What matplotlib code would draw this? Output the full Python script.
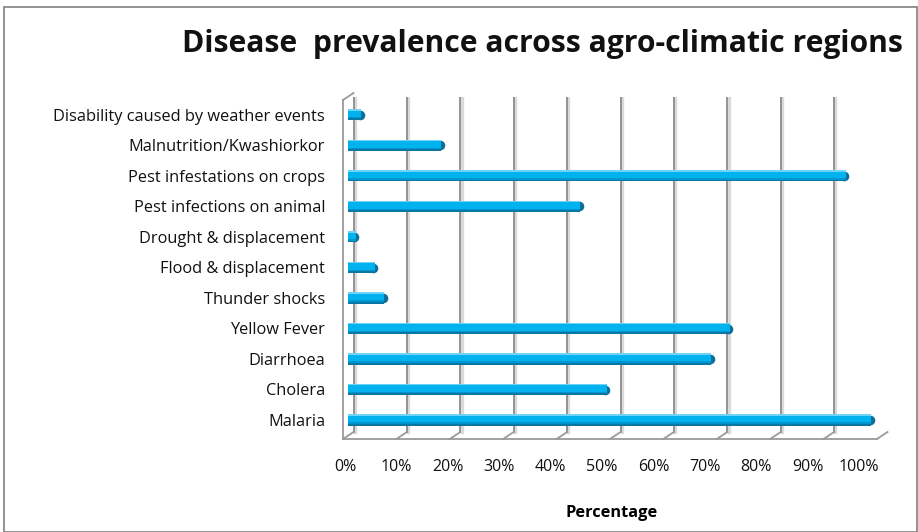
import numpy as np
import matplotlib
matplotlib.use('Agg')
import matplotlib.pyplot as plt
import matplotlib.transforms as mtransforms
from matplotlib.patches import Rectangle

# Data, bottom to top
diseases = ['Malaria', 'Cholera', 'Diarrhoea', 'Yellow Fever', 'Thunder shocks',
            'Flood & displacement', 'Drought & displacement', 'Pest infections on animal',
            'Pest infestations on crops', 'Malnutrition/Kwashiorkor',
            'Disability caused by weather events']
prevalence = [98.0, 48.5, 68.0, 71.5, 6.8, 5.0, 1.5, 43.5, 93.2, 17.5, 2.5]
ticks = np.arange(0, 101, 10)
tick_labels = [f'{t}%' for t in ticks]

W, H = 918, 532
plt.rcParams['font.family'] = ['Open Sans', 'DejaVu Sans']
fig = plt.figure(figsize=(W / 100, H / 100), dpi=100)

def px(l, b, w, h):
    return [l / W, b / H, w / W, h / H]

# Bars live in the middle depth plane
ax = fig.add_axes(px(348, 532 - 435.5, 534, 339))
ax.set_xlim(0, 100)
ax.set_ylim(-0.51, 10.59)
ax.patch.set_visible(False)
for s in ax.spines.values():
    s.set_visible(False)

y = np.arange(len(diseases))
vals = np.array(prevalence)

front = mtransforms.ScaledTranslation(-5 / 100, -3.5 / 100, fig.dpi_scale_trans)
back = mtransforms.ScaledTranslation(5.5 / 100, 3.5 / 100, fig.dpi_scale_trans)
wall = '#9a9a9a'

# back wall gridlines (with a soft shadow)
for t in ticks:
    ax.plot([t, t], [0, 1], color='#dadada', lw=2.4, transform=ax.get_xaxis_transform() + back
            + mtransforms.ScaledTranslation(1.3 / 100, 0, fig.dpi_scale_trans), zorder=0.5)
    ax.plot([t, t], [0, 1], color='#8c8c8c', lw=1.3, transform=ax.get_xaxis_transform() + back, zorder=1)

def depth(xa, ya, **kw):
    # line from the front plane to the back plane at one axes point
    f = (ax.transAxes + front).transform((xa, ya))
    b = (ax.transAxes + back).transform((xa, ya))
    ax.plot([f[0], b[0]], [f[1], b[1]], transform=mtransforms.IdentityTransform(), **kw)

# floor front edge and left wall front edge
ax.plot([0, 1], [0, 0], color=wall, lw=1.3, transform=ax.transAxes + front, clip_on=False)
ax.plot([0, 0], [0, 1], color=wall, lw=1.3, transform=ax.transAxes + front, clip_on=False)
depth(0, 1, color=wall, lw=1.3, clip_on=False)
for t in ticks:
    depth(t / 100, 0, color=wall, lw=1.3, clip_on=False)

# cylinder-like bars
ax.scatter(vals - 0.3, y - 0.01, s=48, marker='o', color='#0b6f99', zorder=2.9, linewidths=0)
ax.barh(y - 0.01, vals, height=0.36, color='#0a76a4', zorder=3)
ax.barh(y + 0.025, vals, height=0.31, color='#0096cf', zorder=3)
ax.barh(y + 0.05, vals, height=0.26, color='#00b2ee', zorder=3)
ax.barh(y + 0.155, vals, height=0.05, color='#6fd3f6', zorder=3)

ax.set_yticks(y)
ax.set_yticklabels(diseases, fontsize=11.8, color='#111111')
ax.tick_params(axis='y', length=0, pad=16.5)
ax.set_xticks([])

# value axis labels on a helper axis (Excel spreads them slightly narrower)
ax2 = fig.add_axes(px(345, 532 - 458, 514, 1))
ax2.set_xlim(0, 100)
ax2.set_xticks(ticks)
ax2.set_xticklabels(tick_labels, fontsize=11.5, color='#111111')
ax2.tick_params(axis='x', length=0, pad=1)
ax2.set_yticks([])
ax2.patch.set_visible(False)
for s in ax2.spines.values():
    s.set_visible(False)

fig.text(612 / W, 1 - 513 / H, 'Percentage', fontsize=11.8, fontweight='bold',
         ha='center', va='center')
fig.text(542 / W, 1 - 44 / H, 'Disease  prevalence across agro-climatic regions',
         fontsize=21.7, fontweight='bold', ha='center', va='center', color='#111111')

fig.add_artist(Rectangle((4 / W, 0.5 / H), (W - 5) / W, (H - 7.5) / H, transform=fig.transFigure,
                         fill=False, edgecolor='#808080', lw=1.2))

fig.savefig('out.png', dpi=100)
